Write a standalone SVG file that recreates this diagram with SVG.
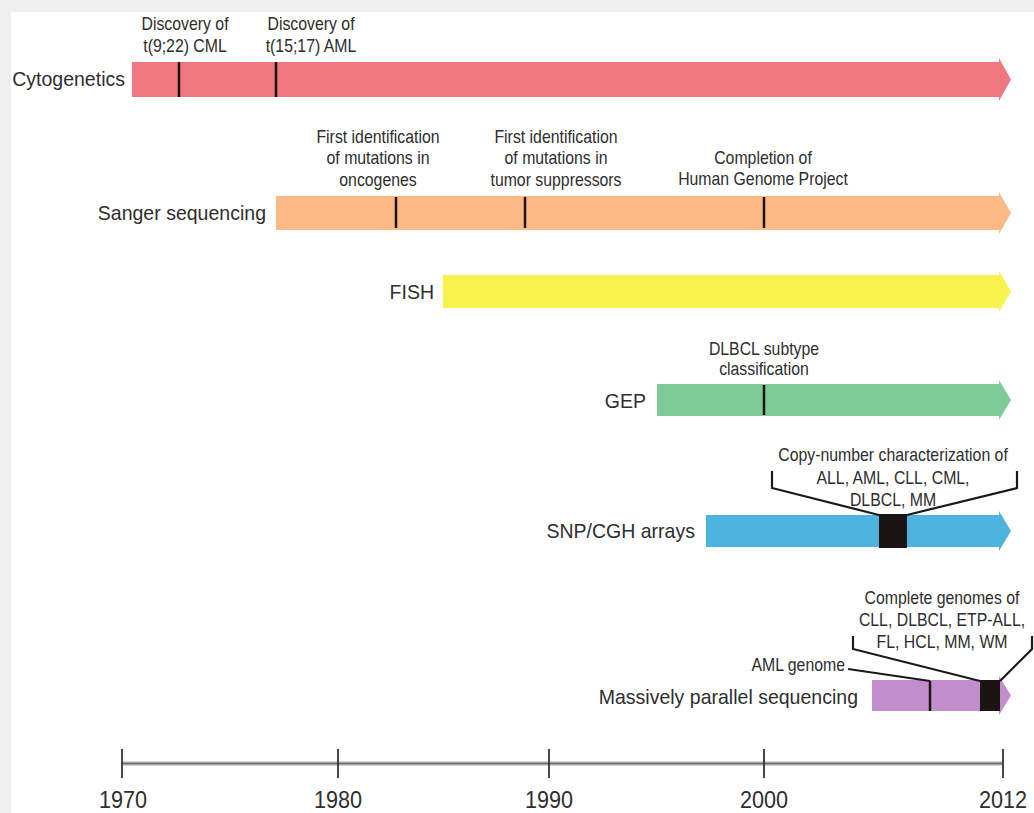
<svg xmlns="http://www.w3.org/2000/svg" width="1034" height="813" viewBox="0 0 1034 813">
<style>
.lbl{font-family:"Liberation Sans",Arial,sans-serif;font-size:21px;fill:#2e2e2e}
.ann{font-family:"Liberation Sans",Arial,sans-serif;font-size:18px;fill:#2e2e2e;text-anchor:middle}
.yr{font-family:"Liberation Sans",Arial,sans-serif;font-size:23px;fill:#2e2e2e;text-anchor:middle}
.tk{stroke:#1e1414;stroke-width:2.5}
.ld{fill:none;stroke:#1a1a1a;stroke-width:2.2;stroke-linejoin:miter}
.box{fill:#1a1414}
</style>
<rect x="0" y="0" width="1034" height="813" fill="#efefef"/>
<rect x="11" y="12" width="1023" height="801" fill="#ffffff"/>

<g id="cytogenetics">
<polygon points="132,62 999,62 999,58 1011,79.5 999,101 999,97 132,97" fill="#f0777f"/>
<line class="tk" x1="179" y1="62" x2="179" y2="97"/>
<line class="tk" x1="276" y1="62" x2="276" y2="97"/>
<text class="lbl" text-anchor="end" transform="translate(125,86) scale(0.93,1)">Cytogenetics</text>
<text class="ann" transform="translate(185,30) scale(0.88,1)">Discovery of</text>
<text class="ann" transform="translate(185,52) scale(0.88,1)">t(9;22) CML</text>
<text class="ann" transform="translate(311,30) scale(0.88,1)">Discovery of</text>
<text class="ann" transform="translate(311,52) scale(0.88,1)">t(15;17) AML</text>
</g>

<g id="sanger">
<polygon points="276,196 999,196 999,192 1011,213 999,234 999,230 276,230" fill="#fdba86"/>
<line class="tk" x1="396" y1="197" x2="396" y2="228"/>
<line class="tk" x1="525" y1="197" x2="525" y2="228"/>
<line class="tk" x1="764" y1="197" x2="764" y2="228"/>
<text class="lbl" text-anchor="end" transform="translate(266,220) scale(0.93,1)">Sanger sequencing</text>
<text class="ann" transform="translate(378,143) scale(0.88,1)">First identification</text>
<text class="ann" transform="translate(378,164) scale(0.88,1)">of mutations in</text>
<text class="ann" transform="translate(378,186) scale(0.88,1)">oncogenes</text>
<text class="ann" transform="translate(556,143) scale(0.88,1)">First identification</text>
<text class="ann" transform="translate(556,164) scale(0.88,1)">of mutations in</text>
<text class="ann" transform="translate(556,186) scale(0.88,1)">tumor suppressors</text>
<text class="ann" transform="translate(763,164) scale(0.88,1)">Completion of</text>
<text class="ann" transform="translate(763,185) scale(0.88,1)">Human Genome Project</text>
</g>

<g id="fish">
<polygon points="443,275 999,275 999,271 1011,291.5 999,312 999,308 443,308" fill="#f8f24c"/>
<text class="lbl" text-anchor="end" transform="translate(434,299) scale(0.93,1)">FISH</text>
</g>

<g id="gep">
<polygon points="657,384 999,384 999,380 1011,400 999,420 999,416 657,416" fill="#7ecb97"/>
<line class="tk" x1="764" y1="385" x2="764" y2="415"/>
<text class="lbl" text-anchor="end" transform="translate(646,408) scale(0.93,1)">GEP</text>
<text class="ann" transform="translate(764,355) scale(0.88,1)">DLBCL subtype</text>
<text class="ann" transform="translate(764,375) scale(0.88,1)">classification</text>
</g>

<g id="snp-cgh">
<polygon points="706,515 999,515 999,511 1011,531 999,551 999,547 706,547" fill="#4db4e0"/>
<rect class="box" x="879" y="514" width="28" height="34"/>
<text class="lbl" text-anchor="end" transform="translate(695,538) scale(0.93,1)">SNP/CGH arrays</text>
<text class="ann" transform="translate(893,461) scale(0.88,1)">Copy-number characterization of</text>
<text class="ann" transform="translate(893,484) scale(0.88,1)">ALL, AML, CLL, CML,</text>
<text class="ann" transform="translate(893,506) scale(0.88,1)">DLBCL, MM</text>
</g>

<g id="mps">
<polygon points="872,680 999,680 999,676 1011,695.5 999,715 999,711 872,711" fill="#c28dcc"/>
<line class="tk" x1="930" y1="681" x2="930" y2="711"/>
<rect class="box" x="980" y="680" width="20" height="31"/>
<text class="lbl" text-anchor="end" transform="translate(858,704) scale(0.93,1)">Massively parallel sequencing</text>
<text class="ann" style="text-anchor:end" transform="translate(845,671) scale(0.88,1)">AML genome</text>
<text class="ann" transform="translate(942,604) scale(0.88,1)">Complete genomes of</text>
<text class="ann" transform="translate(942,626) scale(0.88,1)">CLL, DLBCL, ETP-ALL,</text>
<text class="ann" transform="translate(942,648) scale(0.88,1)">FL, HCL, MM, WM</text>
</g>

<g id="connectors">
<polyline class="ld" points="772,471 772,488 879,515"/>
<polyline class="ld" points="1017,471 1017,488 907,515"/>
<polyline class="ld" points="848,669 930,681"/>
<polyline class="ld" points="853,636 853,649 980,681"/>
<polyline class="ld" points="1032,636 1032,649 1000,681"/>
</g>

<g id="axis">
<line x1="122" y1="763.5" x2="1003" y2="763.5" stroke="#a8a8a8" stroke-width="4"/>
<line x1="122" y1="763.5" x2="1003" y2="763.5" stroke="#6a6a6a" stroke-width="1.2"/>
<g stroke="#333" stroke-width="1.8">
<line x1="122" y1="749" x2="122" y2="778"/>
<line x1="338" y1="749" x2="338" y2="778"/>
<line x1="549" y1="749" x2="549" y2="778"/>
<line x1="764" y1="749" x2="764" y2="778"/>
<line x1="1003" y1="749" x2="1003" y2="778"/>
</g>
<text class="yr" transform="translate(123,808) scale(0.94,1)">1970</text>
<text class="yr" transform="translate(338,808) scale(0.94,1)">1980</text>
<text class="yr" transform="translate(549,808) scale(0.94,1)">1990</text>
<text class="yr" transform="translate(764,808) scale(0.94,1)">2000</text>
<text class="yr" transform="translate(1003,808) scale(0.94,1)">2012</text>
</g>
</svg>
